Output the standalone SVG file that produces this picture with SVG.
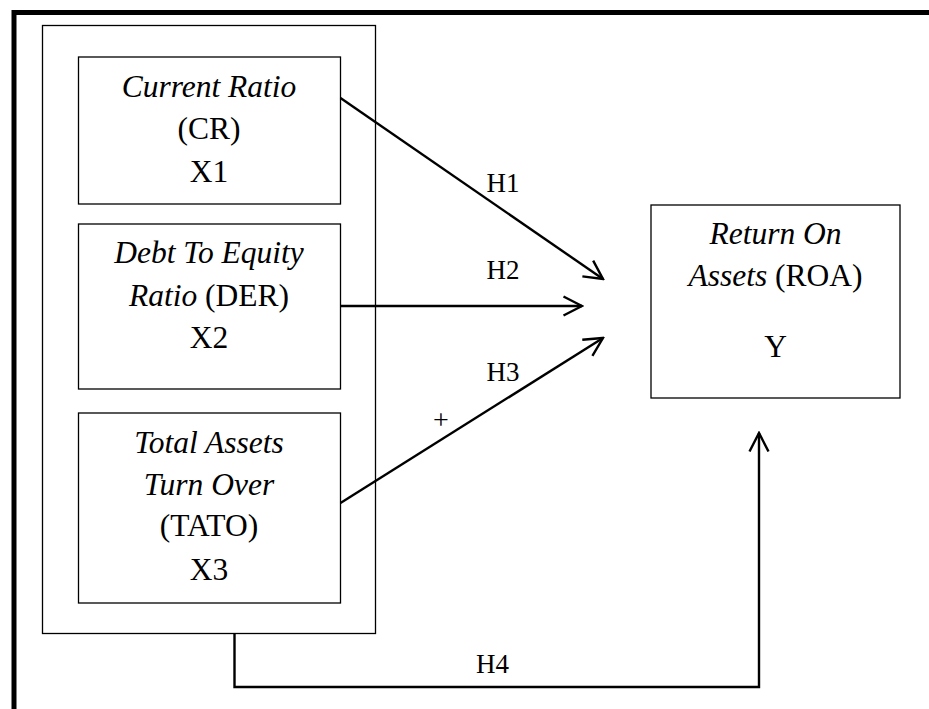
<svg xmlns="http://www.w3.org/2000/svg" width="929" height="709" viewBox="0 0 929 709">
<defs>
<style>
.box{fill:#fff;stroke:#000;stroke-width:1.3}
.t{font-family:"Liberation Serif","Times New Roman",serif;font-size:31.5px;fill:#000;text-anchor:middle}
.i{font-style:italic}
.lbl{font-family:"Liberation Serif","Times New Roman",serif;font-size:27px;fill:#000;text-anchor:middle}
.c{fill:none;stroke:#000;stroke-width:2.4}
</style>
<marker id="ah" markerUnits="userSpaceOnUse" viewBox="0 0 22 22" markerWidth="22" markerHeight="22" refX="20" refY="11" orient="auto">
<path d="M1.5,1.5 L20,11 L1.5,20.5" fill="none" stroke="#000" stroke-width="2.4"/>
</marker>
</defs>
<rect width="929" height="709" fill="#fff"/>
<path d="M14,709 L14,12.5 L929,12.5" fill="none" stroke="#000" stroke-width="5"/>
<g id="container">
<rect class="box" x="42.5" y="25.5" width="333" height="608"/>
</g>
<g id="cr">
<rect class="box" x="78.5" y="57" width="262" height="147"/>
<text class="t i" x="209" y="97">Current Ratio</text>
<text class="t" x="209" y="139">(CR)</text>
<text class="t" x="209" y="182">X1</text>
</g>
<g id="der">
<rect class="box" x="78.5" y="224" width="262" height="165"/>
<text class="t i" x="209" y="263">Debt To Equity</text>
<text class="t" x="209" y="306"><tspan class="i">Ratio</tspan> (DER)</text>
<text class="t" x="209" y="348">X2</text>
</g>
<g id="tato">
<rect class="box" x="78.5" y="413" width="262" height="190"/>
<text class="t i" x="209" y="453">Total Assets</text>
<text class="t i" x="209" y="495">Turn Over</text>
<text class="t" x="209" y="536">(TATO)</text>
<text class="t" x="209" y="580">X3</text>
</g>
<g id="roa">
<rect class="box" x="651" y="205" width="249" height="193"/>
<text class="t i" x="775.5" y="244">Return On</text>
<text class="t" x="775.5" y="286"><tspan class="i">Assets</tspan> (ROA)</text>
<text class="t" x="775.5" y="357">Y</text>
</g>
<g id="connectors">
<line class="c" x1="340.5" y1="98" x2="603" y2="279" marker-end="url(#ah)"/>
<line class="c" x1="340.5" y1="306" x2="582" y2="306" marker-end="url(#ah)"/>
<line class="c" x1="340.5" y1="503" x2="603" y2="338" marker-end="url(#ah)"/>
<path class="c" d="M234.5,633.5 L234.5,687 L759,687 L759,433" marker-end="url(#ah)"/>
<text class="lbl" x="503" y="192">H1</text>
<text class="lbl" x="503" y="279">H2</text>
<text class="lbl" x="503" y="381">H3</text>
<text class="lbl" x="441" y="429" style="font-size:28px">+</text>
<text class="lbl" x="492.5" y="673">H4</text>
</g>
</svg>
